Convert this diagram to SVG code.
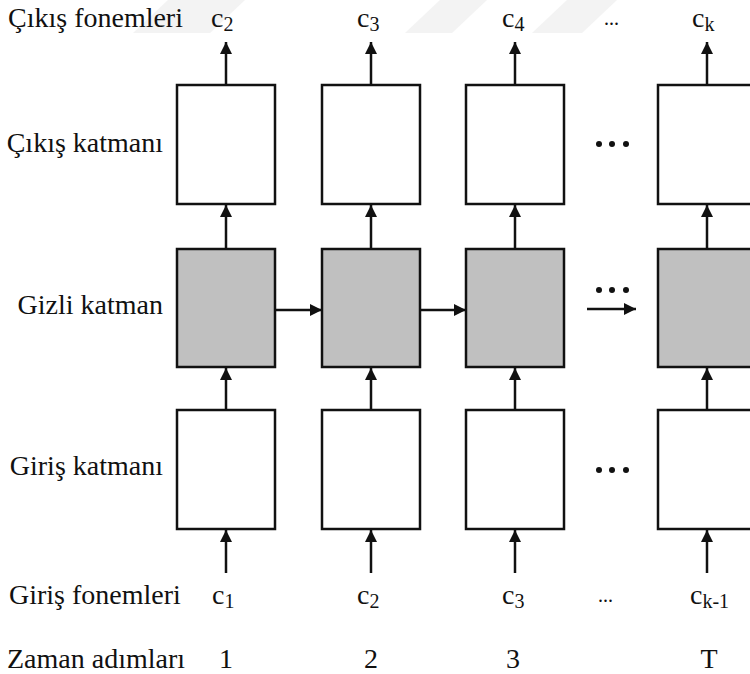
<svg xmlns="http://www.w3.org/2000/svg" width="750" height="674" viewBox="0 0 750 674">
  <style>
    .lbl { font-family: "Liberation Serif", "Times New Roman", serif; font-size: 28px; fill: #111; }
    .sub { font-size: 20px; }
    .box { fill: #ffffff; stroke: #111; stroke-width: 2.5; }
    .hid { fill: #c0c0c0; stroke: #111; stroke-width: 2.5; }
    .wire { stroke: #111; stroke-width: 2.5; fill: none; marker-end: url(#head); }
    .dot { fill: #111; }
    .mark { fill: #f3f3f3; }
  </style>
  <defs>
    <marker id="head" markerUnits="userSpaceOnUse" viewBox="0 0 12 12" refX="12" refY="6" markerWidth="12" markerHeight="12" orient="auto">
      <path d="M0,0 L12,6 L0,12 Z" fill="#111"/>
    </marker>
  </defs>

  <rect width="750" height="674" fill="#ffffff"/>

  <!-- faint background marks at the top edge -->
  <g id="bg-marks">
    <polygon class="mark" points="133,33 210,33 245,0 168,0"/>
    <polygon class="mark" points="405,33 452,33 487,0 440,0"/>
    <polygon class="mark" points="532,33 582,33 617,0 567,0"/>
  </g>

  <!-- row labels -->
  <g id="row-labels">
    <text class="lbl" x="8" y="27">Çıkış fonemleri</text>
    <text class="lbl" x="163" y="152" text-anchor="end">Çıkış katmanı</text>
    <text class="lbl" x="163" y="314" text-anchor="end">Gizli katman</text>
    <text class="lbl" x="163" y="475" text-anchor="end">Giriş katmanı</text>
    <text class="lbl" x="9" y="604">Giriş fonemleri</text>
    <text class="lbl" x="7" y="668">Zaman adımları</text>
  </g>

  <!-- output symbols -->
  <g id="out-labels">
    <text class="lbl" x="211" y="27">c<tspan class="sub" dy="4">2</tspan></text>
    <text class="lbl" x="357" y="27">c<tspan class="sub" dy="4">3</tspan></text>
    <text class="lbl" x="502" y="27">c<tspan class="sub" dy="4">4</tspan></text>
    <text class="lbl" x="604" y="25" style="font-size:20px">...</text>
    <text class="lbl" x="692" y="27">c<tspan class="sub" dy="4">k</tspan></text>
  </g>

  <!-- input symbols -->
  <g id="in-labels">
    <text class="lbl" x="212" y="604">c<tspan class="sub" dy="4">1</tspan></text>
    <text class="lbl" x="357" y="604">c<tspan class="sub" dy="4">2</tspan></text>
    <text class="lbl" x="502" y="604">c<tspan class="sub" dy="4">3</tspan></text>
    <text class="lbl" x="598" y="602" style="font-size:20px">...</text>
    <text class="lbl" x="690" y="604">c<tspan class="sub" dy="4">k-1</tspan></text>
  </g>

  <!-- time steps -->
  <g id="steps">
    <text class="lbl" x="226" y="668" text-anchor="middle">1</text>
    <text class="lbl" x="371" y="668" text-anchor="middle">2</text>
    <text class="lbl" x="513" y="668" text-anchor="middle">3</text>
    <text class="lbl" x="709" y="668" text-anchor="middle">T</text>
  </g>

  <!-- connectors -->
  <g id="connectors">
    <!-- input symbol -> input layer -->
    <line class="wire" x1="226" y1="573" x2="226" y2="530"/>
    <line class="wire" x1="371" y1="573" x2="371" y2="530"/>
    <line class="wire" x1="515" y1="573" x2="515" y2="530"/>
    <line class="wire" x1="707" y1="573" x2="707" y2="530"/>
    <!-- input layer -> hidden layer -->
    <line class="wire" x1="226" y1="410" x2="226" y2="368"/>
    <line class="wire" x1="371" y1="410" x2="371" y2="368"/>
    <line class="wire" x1="515" y1="410" x2="515" y2="368"/>
    <line class="wire" x1="707" y1="410" x2="707" y2="368"/>
    <!-- hidden layer -> output layer -->
    <line class="wire" x1="226" y1="249" x2="226" y2="205"/>
    <line class="wire" x1="371" y1="249" x2="371" y2="205"/>
    <line class="wire" x1="515" y1="249" x2="515" y2="205"/>
    <line class="wire" x1="707" y1="249" x2="707" y2="205"/>
    <!-- output layer -> output symbol -->
    <line class="wire" x1="226" y1="85" x2="226" y2="42"/>
    <line class="wire" x1="371" y1="85" x2="371" y2="42"/>
    <line class="wire" x1="515" y1="85" x2="515" y2="42"/>
    <line class="wire" x1="707" y1="85" x2="707" y2="42"/>
    <!-- recurrence between hidden steps -->
    <line class="wire" x1="275" y1="310" x2="322" y2="310"/>
    <line class="wire" x1="420" y1="310" x2="466" y2="310"/>
    <line class="wire" x1="587" y1="309" x2="636" y2="309"/>
  </g>

  <!-- ellipses between columns -->
  <g id="ellipses">
    <circle class="dot" cx="599" cy="144" r="3"/><circle class="dot" cx="612" cy="144" r="3"/><circle class="dot" cx="626" cy="144" r="3"/>
    <circle class="dot" cx="599" cy="290" r="3"/><circle class="dot" cx="612" cy="290" r="3"/><circle class="dot" cx="626" cy="290" r="3"/>
    <circle class="dot" cx="599" cy="470" r="3"/><circle class="dot" cx="612" cy="470" r="3"/><circle class="dot" cx="626" cy="470" r="3"/>
  </g>

  <!-- output layer -->
  <g id="out-1"><rect class="box" x="177" y="85" width="98" height="119"/></g>
  <g id="out-2"><rect class="box" x="322" y="85" width="98" height="119"/></g>
  <g id="out-3"><rect class="box" x="466" y="85" width="98" height="119"/></g>
  <g id="out-T"><rect class="box" x="658" y="85" width="98" height="119"/></g>

  <!-- hidden layer -->
  <g id="hid-1"><rect class="hid" x="177" y="249" width="98" height="118"/></g>
  <g id="hid-2"><rect class="hid" x="322" y="249" width="98" height="118"/></g>
  <g id="hid-3"><rect class="hid" x="466" y="249" width="98" height="118"/></g>
  <g id="hid-T"><rect class="hid" x="658" y="249" width="98" height="118"/></g>

  <!-- input layer -->
  <g id="in-1"><rect class="box" x="177" y="410" width="98" height="119"/></g>
  <g id="in-2"><rect class="box" x="322" y="410" width="98" height="119"/></g>
  <g id="in-3"><rect class="box" x="466" y="410" width="98" height="119"/></g>
  <g id="in-T"><rect class="box" x="658" y="410" width="98" height="119"/></g>
</svg>
